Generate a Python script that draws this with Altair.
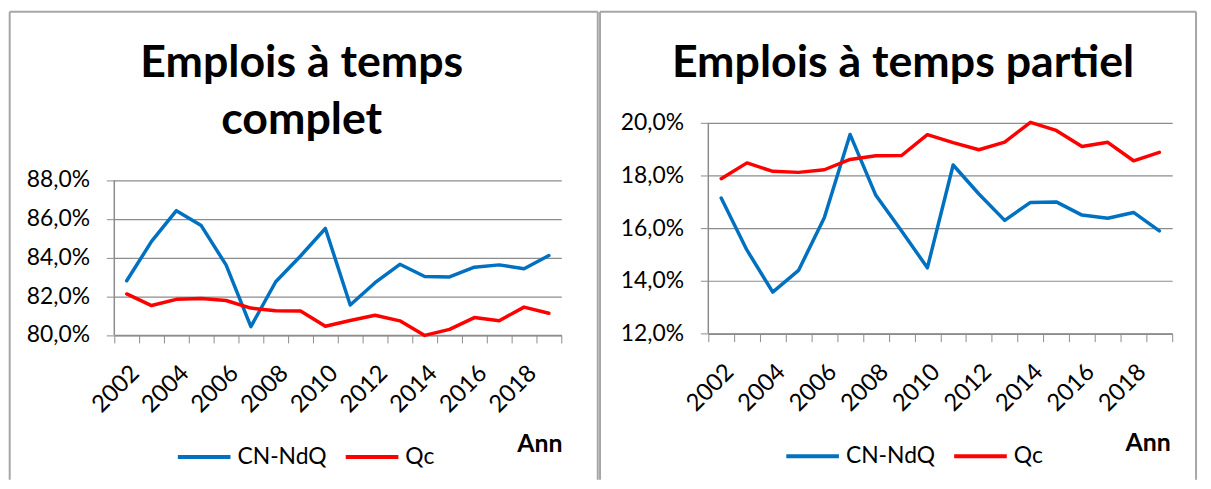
import altair as alt
import pandas as pd

# ---------------- data ----------------
YEARS = [2002, 2003, 2004, 2005, 2006, 2007, 2008, 2009, 2010,
         2011, 2012, 2013, 2014, 2015, 2016, 2017, 2018, 2019]
SERIES = ["CN-NdQ", "Qc"]

CN_COMPLET = [82.80, 84.83, 86.42, 85.65, 83.62, 80.43, 82.75, 84.08, 85.50,
              81.55, 82.70, 83.65, 83.02, 83.00, 83.50, 83.62, 83.42, 84.10]
QC_COMPLET = [82.12, 81.52, 81.84, 81.88, 81.78, 81.39, 81.25, 81.24, 80.45,
              80.75, 81.02, 80.73, 79.98, 80.29, 80.90, 80.74, 81.44, 81.12]

CN_PARTIEL = [17.15, 15.17, 13.58, 14.40, 16.40, 19.56, 17.25, 15.90, 14.50,
              18.40, 17.30, 16.30, 16.98, 17.00, 16.50, 16.38, 16.60, 15.90]
QC_PARTIEL = [17.88, 18.48, 18.16, 18.12, 18.22, 18.61, 18.75, 18.76, 19.55,
              19.25, 18.98, 19.27, 20.02, 19.71, 19.10, 19.26, 18.56, 18.88]

TITLE_COMPLET = "Emplois à temps\ncomplet"
TITLE_PARTIEL = "Emplois à temps partiel"
X_TITLE = "Ann"

TICKS_COMPLET = [80, 82, 84, 86, 88]
TICKS_PARTIEL = [12, 14, 16, 18, 20]
# tick marks sit between the yearly categories
BOUNDARIES = [2001.5, 2002.5, 2003.5, 2004.5, 2005.5, 2006.5, 2007.5, 2008.5, 2009.5,
              2010.5, 2011.5, 2012.5, 2013.5, 2014.5, 2015.5, 2016.5, 2017.5, 2018.5, 2019.5]

# ---------------- style ----------------
FONT = "Lato"
GRID = "#8c8c8c"
FRAME = "#a6a6a6"
COLORS = ["#0070C0", "#FF0000"]


def long_table(cn, qc):
    return pd.DataFrame({
        "Année": YEARS + YEARS,
        "Série": [SERIES[0]] * len(YEARS) + [SERIES[1]] * len(YEARS),
        "valeur": cn + qc,
    })


def edge(x1, y1, x2, y2):
    return alt.Chart(pd.DataFrame({"k": [0]})).mark_rule(
        stroke=FRAME, strokeWidth=2, clip=False
    ).encode(x=alt.value(x1), y=alt.value(y1), x2=alt.value(x2), y2=alt.value(y2))


def panel(df, W, H, plot_h, yticks, title, tx, ty, lx, ly, frame, atx, aty):
    band = W / len(YEARS)
    fx1, fy1, fx2, fy2 = frame
    lo, hi = yticks[0], yticks[-1]
    # the view is taller than the value range; extend the scale upward so that
    # [lo, hi] occupies exactly plot_h pixels at the bottom of the view
    top = lo + (hi - lo) * H / plot_h

    frame_layers = [
        edge(fx1, fy1, fx1, fy2),  # left
        edge(fx1, fy1, fx2, fy1),  # top
        edge(fx2, fy1, fx2, fy2),  # right
    ]

    title_layer = alt.Chart(pd.DataFrame({"t": [title]})).mark_text(
        font=FONT, fontSize=45, fontWeight="bold", align="center",
        baseline="alphabetic", lineBreak="\n", lineHeight=58, color="#000"
    ).encode(x=alt.value(tx), y=alt.value(ty), text="t:N")

    x = alt.X(
        "Année:Q",
        scale=alt.Scale(domain=[BOUNDARIES[0], BOUNDARIES[-1]], nice=False, zero=False),
        axis=alt.Axis(
            values=BOUNDARIES,
            labelExpr="(datum.value < 2019 && (datum.value + 0.5) % 2 == 0) ? toString(datum.value + 0.5) : ''",
            labelAngle=-45, labelAlign="right", labelBaseline="top",
            labelOffset=band / 2, labelPadding=18, labelOverlap=False, labelFlush=False,
            labelFont=FONT, labelFontSize=24, labelColor="#000",
            tickSize=8, tickColor=GRID, domainColor=GRID, tickWidth=1, domainWidth=1.5,
            grid=False,
            title=X_TITLE, titleX=atx, titleY=aty, titleAlign="right", titleAngle=0,
            titleBaseline="alphabetic", titleFont=FONT, titleFontSize=25,
            titleFontWeight="bold", titleColor="#000",
        ),
    )
    y_scale = alt.Scale(domain=[lo, top], nice=False, zero=False)
    y = alt.Y(
        "valeur:Q",
        scale=y_scale,
        axis=alt.Axis(
            values=yticks,
            labelExpr="replace(format(datum.value, '.1f'), '.', ',') + '%'",
            title=None, tickSize=8, labelPadding=17, domain=False,
            labelFont=FONT, labelFontSize=23, labelColor="#000",
            grid=True, gridColor=GRID, gridWidth=1.2,
            tickColor=GRID, tickWidth=1,
        ),
    )
    color = alt.Color(
        "Série:N",
        scale=alt.Scale(domain=SERIES, range=COLORS),
        legend=alt.Legend(
            title=None, orient="none", legendX=lx, legendY=ly, direction="horizontal",
            symbolType="stroke", symbolSize=2809, symbolStrokeWidth=4,
            labelFont=FONT, labelFontSize=23, labelColor="#000",
            columnPadding=11, labelOffset=5, padding=0,
        ),
    )
    # vertical axis line, drawn only over the labelled value range
    y_line = alt.Chart(pd.DataFrame({"k": [0]})).mark_rule(
        color=GRID, strokeWidth=1.5
    ).encode(x=alt.value(0), y=alt.datum(lo, scale=y_scale), y2=alt.datum(hi))

    lines = alt.Chart(df).mark_line(
        strokeWidth=3.5, strokeJoin="round", strokeCap="round", clip=False
    ).encode(x=x, y=y, color=color, order="Année:Q")

    return alt.layer(*frame_layers, title_layer, lines, y_line).properties(width=W, height=H)


# both plot areas share the same top edge; the full-time panel's values
# occupy the lower 156 px of its view
left = panel(
    long_table(CN_COMPLET, QC_COMPLET), 450, 213.6, 156, TICKS_COMPLET,
    TITLE_COMPLET, 188.7, -46.5, 62, 307.6,
    (-105.3, -111.7, 486.7, 359.3), 450.7, 117.4,
)
right = panel(
    long_table(CN_PARTIEL, QC_PARTIEL), 467, 212.3, 212.3, TICKS_PARTIEL,
    TITLE_PARTIEL, 196, -46.5, 76.5, 307,
    (-109, -111.7, 491, 359.3), 465, 117.7,
)

chart = alt.hconcat(left, right, spacing=-2).resolve_scale(
    color="independent", x="independent", y="independent"
).properties(padding=0).configure(font=FONT).configure_view(stroke="transparent")

chart.save("out.html", embed_options={"renderer": "svg", "actions": False})
